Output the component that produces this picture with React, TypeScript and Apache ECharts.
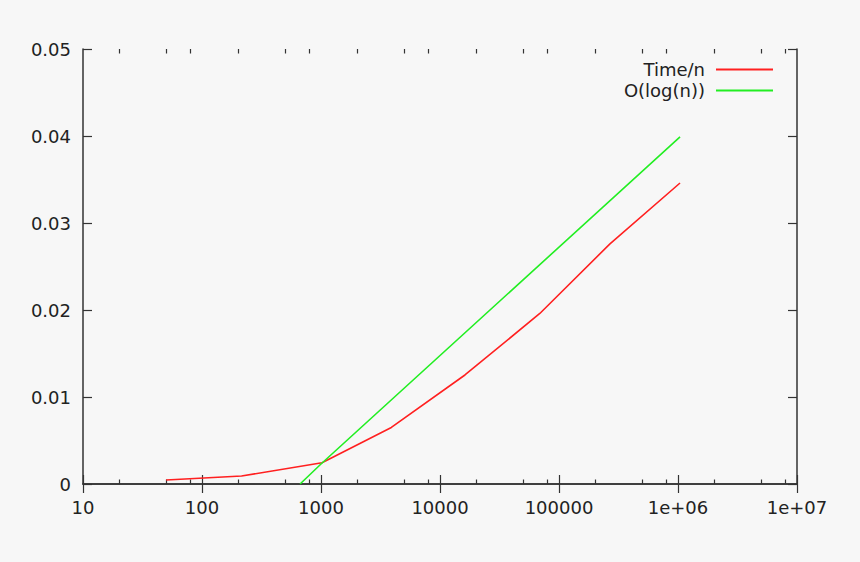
import { useEffect, useRef } from 'react';
import * as echarts from 'echarts';

const timeN = [50, 215, 1020, 3900, 16200, 69000, 268000, 1040000];
const timeValues = [0.00046, 0.00092, 0.00245, 0.0065, 0.01253, 0.0196, 0.0276, 0.0346];

// O(log(n)) reference line, clipped at y = 0
const logN = [667, 1000, 1040000];
const logValues = [0, 0.0023, 0.0399];

const xTickLabels = ['10', '100', '1000', '10000', '100000', '1e+06', '1e+07'];
const xMinorTicks = [
  20, 50, 80, 200, 500, 800, 2000, 5000, 8000, 20000, 50000, 80000,
  200000, 500000, 800000, 2000000, 5000000, 8000000,
];
const seriesNames = ['Time/n', 'O(log(n))'];

const FONT = 'DejaVu Sans';
const AXIS_COLOR = '#333';

export default function App() {
  const chartRef = useRef<HTMLDivElement>(null);

  useEffect(() => {
    document.body.style.margin = '0';
    if (!chartRef.current) return;
    const chart = echarts.init(chartRef.current, null, { renderer: 'svg' });

    const majorX = {
      type: 'log' as const,
      logBase: 10,
      min: 10,
      max: 1e7,
      splitLine: { show: false },
      axisLine: { show: true, lineStyle: { color: AXIS_COLOR, width: 1.5 } },
      axisTick: { show: true, inside: true, length: 9, lineStyle: { color: AXIS_COLOR, width: 1.2 } },
    };
    const minorX = {
      type: 'log' as const,
      logBase: 10,
      min: 10,
      max: 1e7,
      splitLine: { show: false },
      axisLine: { show: false },
      axisLabel: { show: false },
      axisTick: {
        show: true,
        inside: true,
        length: 4.5,
        customValues: xMinorTicks,
        lineStyle: { color: AXIS_COLOR, width: 1.2 },
      },
    };

    chart.setOption({
      animation: false,
      backgroundColor: '#f7f7f7',
      textStyle: { fontFamily: FONT },
      grid: { left: 83, top: 49, right: 63, bottom: 78 },
      legend: {
        data: seriesNames,
        orient: 'vertical',
        right: 82,
        top: 54,
        align: 'right',
        itemWidth: 57,
        itemHeight: 2,
        itemGap: 0,
        icon: 'rect',
        selectedMode: false,
        textStyle: {
          fontFamily: FONT,
          fontSize: 18,
          color: '#222',
          lineHeight: 21,
          padding: [0, 6, 0, 0],
        },
      },
      xAxis: [
        {
          ...majorX,
          position: 'bottom',
          axisLabel: {
            fontFamily: FONT,
            fontSize: 18,
            color: '#222',
            margin: 14,
            formatter: (v: number) => xTickLabels[Math.round(Math.log10(v)) - 1] ?? '',
          },
        },
        { ...majorX, position: 'top', axisLabel: { show: false } },
        { ...minorX, position: 'bottom' },
        { ...minorX, position: 'top' },
      ],
      yAxis: [
        {
          type: 'value',
          position: 'left',
          min: 0,
          max: 0.05,
          interval: 0.01,
          splitLine: { show: false },
          axisLine: { show: true, lineStyle: { color: AXIS_COLOR, width: 1.5 } },
          axisTick: { show: true, inside: true, length: 9, lineStyle: { color: AXIS_COLOR, width: 1.2 } },
          axisLabel: { fontFamily: FONT, fontSize: 18, color: '#222', margin: 12 },
        },
        {
          type: 'value',
          position: 'right',
          min: 0,
          max: 0.05,
          interval: 0.01,
          splitLine: { show: false },
          axisLine: { show: true, lineStyle: { color: AXIS_COLOR, width: 1.5 } },
          axisTick: { show: true, inside: true, length: 9, lineStyle: { color: AXIS_COLOR, width: 1.2 } },
          axisLabel: { show: false },
        },
      ],
      series: [
        {
          name: seriesNames[0],
          type: 'line',
          xAxisIndex: 0,
          yAxisIndex: 0,
          showSymbol: false,
          symbol: 'none',
          color: '#ff2020',
          lineStyle: { color: '#ff2020', width: 1.6 },
          data: timeN.map((n, i) => [n, timeValues[i]]),
        },
        {
          name: seriesNames[1],
          type: 'line',
          xAxisIndex: 0,
          yAxisIndex: 0,
          showSymbol: false,
          symbol: 'none',
          color: '#22ee22',
          lineStyle: { color: '#22ee22', width: 1.6 },
          data: logN.map((n, i) => [n, logValues[i]]),
        },
      ],
    });

    return () => chart.dispose();
  }, []);

  return <div ref={chartRef} style={{ width: 860, height: 562 }} />;
}
